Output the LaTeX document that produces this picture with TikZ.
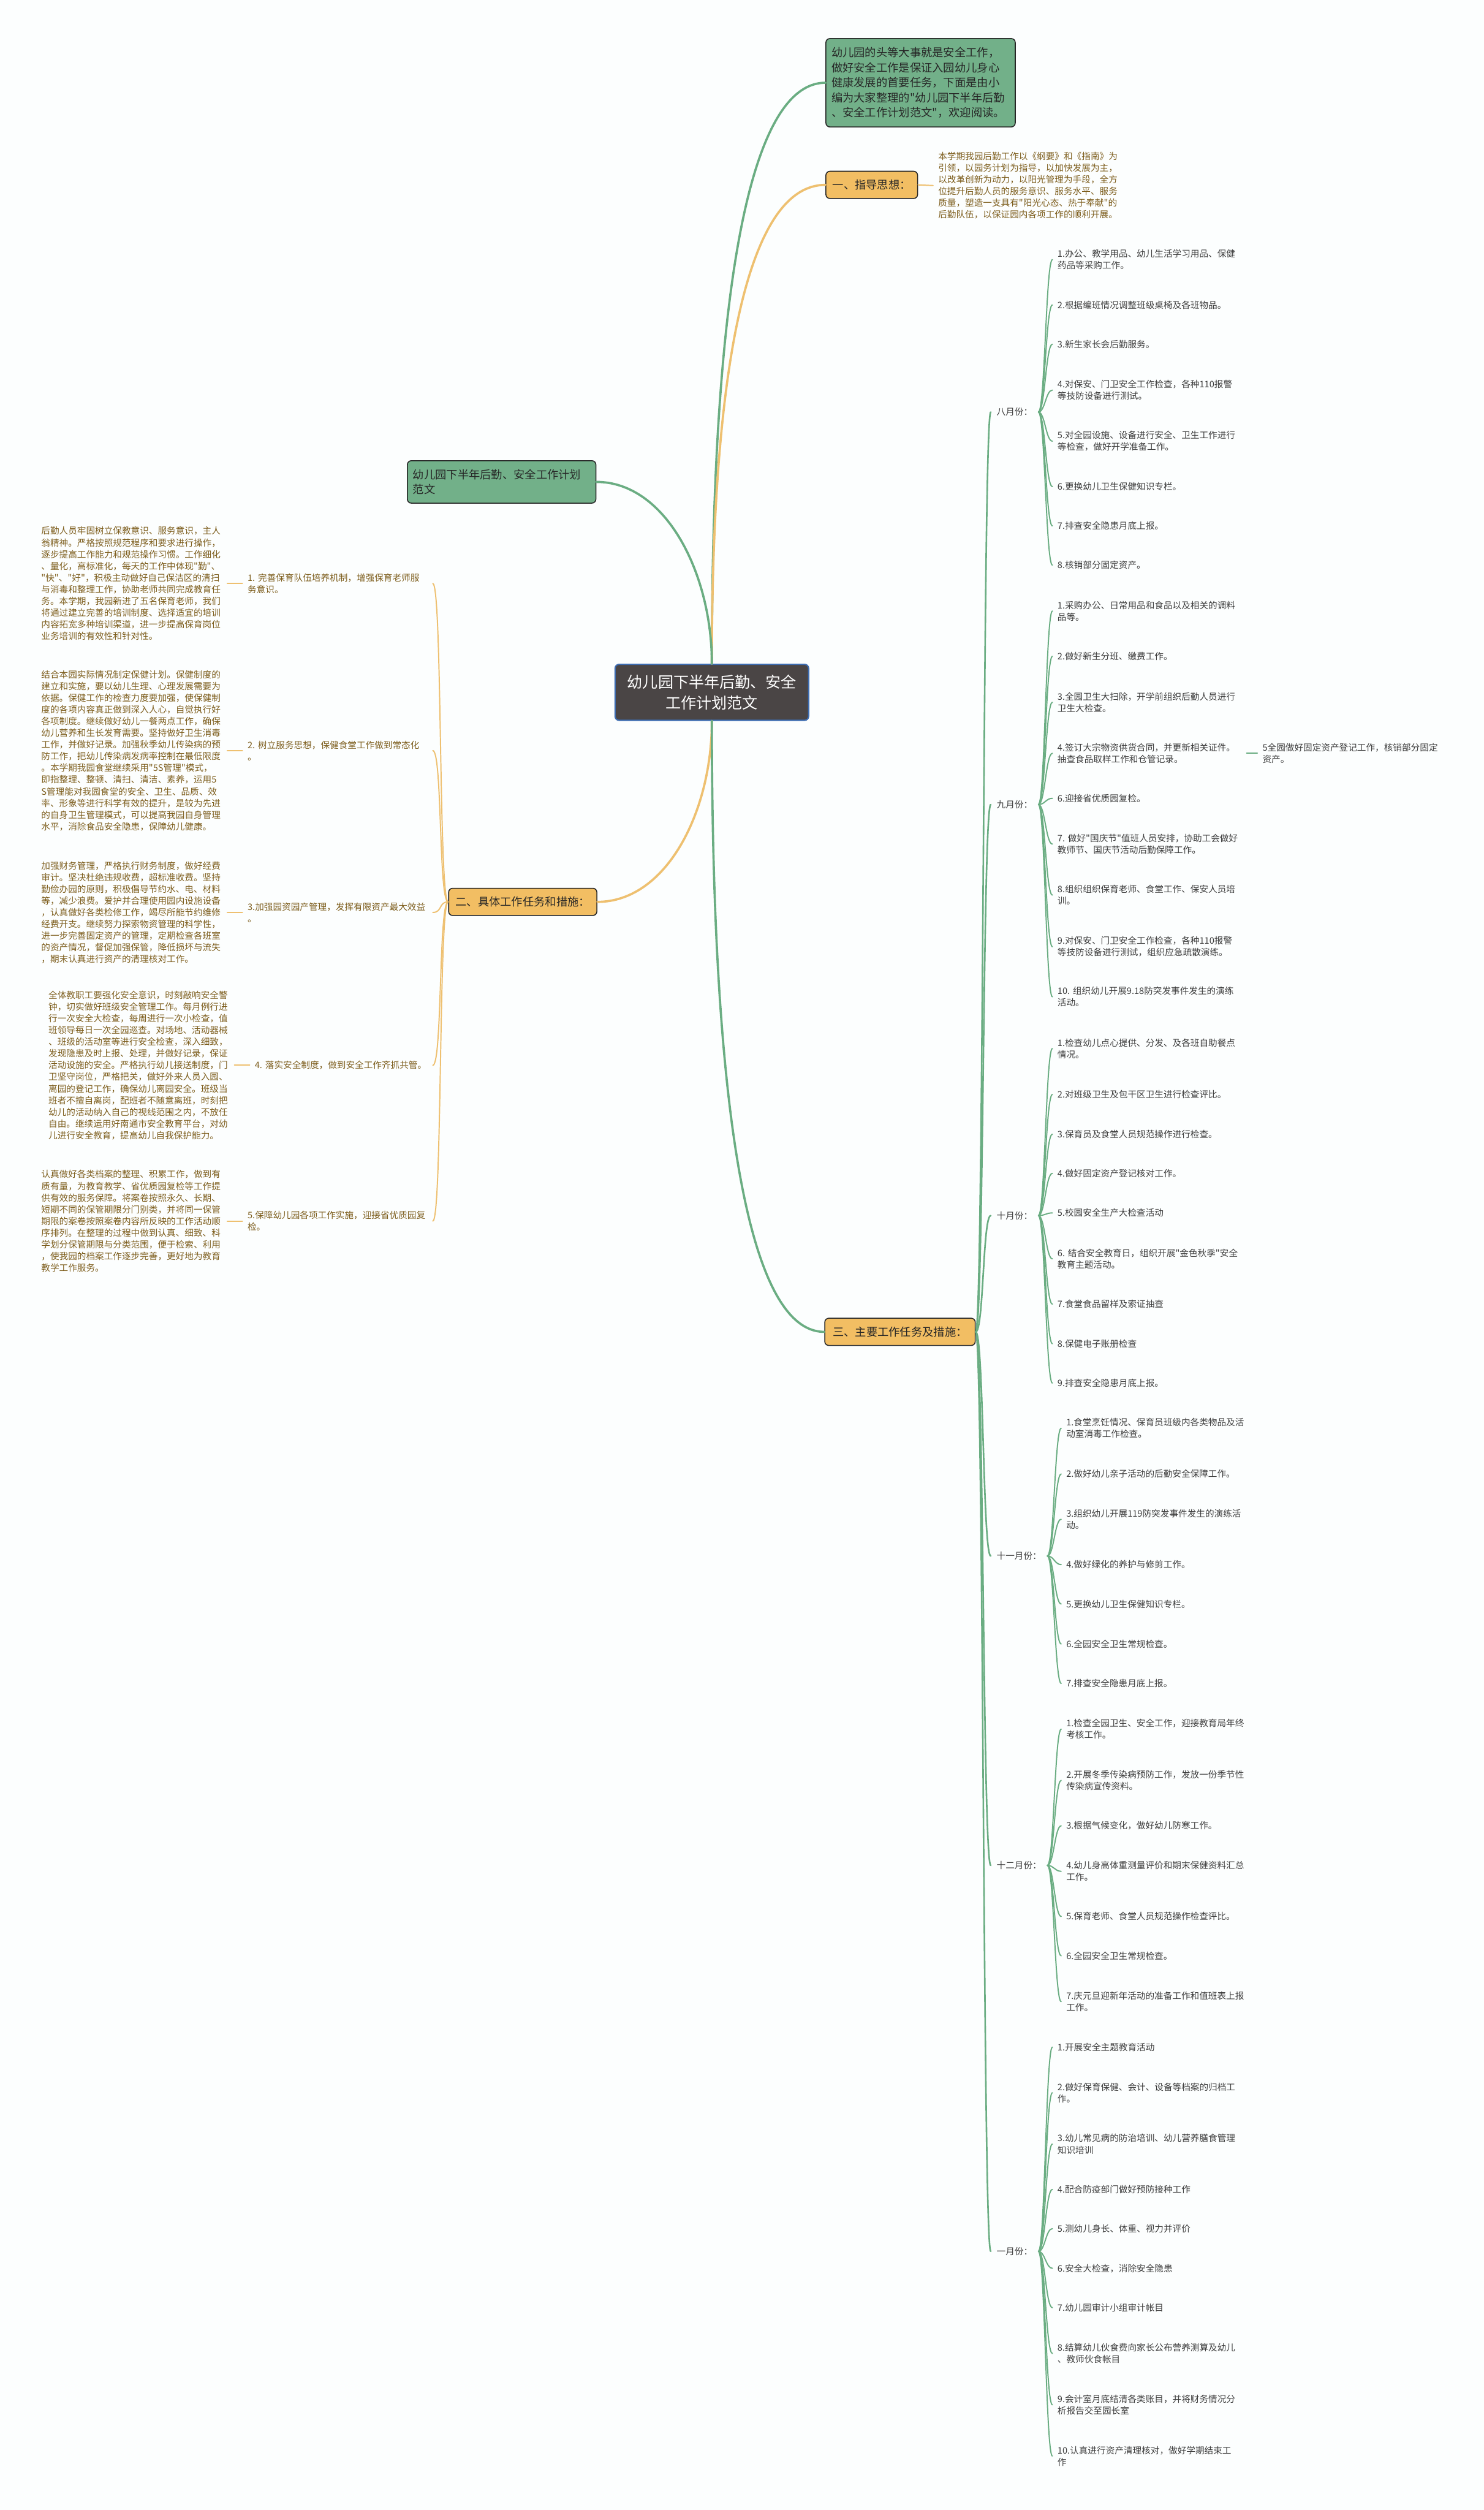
\documentclass[tikz,border=0pt]{standalone}
\usepackage{fontspec}
\newfontfamily\cjk{Noto Sans CJK SC}
\usetikzlibrary{calc, positioning}
\definecolor{cbg}{HTML}{FCFEFE}
\definecolor{cgreen}{HTML}{72B089}
\definecolor{cgline}{HTML}{6AAD82}
\definecolor{corange}{HTML}{F2BE63}
\definecolor{coline}{HTML}{EEC070}
\definecolor{cbrown}{HTML}{7D5D1C}
\definecolor{cink}{HTML}{3C3C3C}
\definecolor{croot}{HTML}{4A4545}
\definecolor{cedge}{HTML}{3D6CB0}
\tikzset{
  every picture/.style={line cap=round},
  topic/.style={draw=black!85, fill=#1, line width=0.6pt, rounded corners=2.5pt, inner xsep=3.5pt, inner ysep=3pt, align=left, text=black!85, font=\cjk\fontsize{7}{9.4}\selectfont},
  item/.style={inner xsep=3pt, inner ysep=0.5pt, align=left, text=#1, font=\cjk\fontsize{5.6}{7.3}\selectfont},
  item/.default=cink,
  month/.style={inner xsep=3.5pt, inner ysep=1pt, text=cink, font=\cjk\fontsize{5.6}{7.3}\selectfont},
  link/.style={to path={.. controls ($(\tikztostart)+(#1,0)$) and ($(\tikztotarget)-(#1,0)$) .. (\tikztotarget)}},
  bough/.style={draw=#1, line width=1.4pt},
  branch/.style={draw=#1, line width=1pt},
  twig/.style={draw=#1, line width=0.75pt},
}
\begin{document}
\begin{tikzpicture}[x=1pt, y=-1pt]
  \path[use as bounding box, fill=cbg] (0,0) rectangle (927,1568);
  % centre and first level
  \node[topic=croot, draw=cedge, line width=0.8pt, text=white, align=center, font=\cjk\fontsize{9.6}{12.7}\selectfont, minimum width=120.9pt, minimum height=35pt, anchor=north west] (root) at (383.9,414.6) {幼儿园下半年后勤、安全\\工作计划范文};
  \node[topic=cgreen, text width=111.3pt, minimum height=55.2pt, anchor=north west] (intro) at (515.7,23.8) {幼儿园的头等大事就是安全工作，\\做好安全工作是保证入园幼儿身心\\健康发展的首要任务，下面是由小\\编为大家整理的"幼儿园下半年后勤\\、安全工作计划范文"，欢迎阅读。};
  \node[topic=cgreen, text width=110.8pt, minimum height=26.5pt, anchor=north west] (plan) at (254.2,287.5) {幼儿园下半年后勤、安全工作计划\\范文};
  \node[topic=corange, minimum width=57.3pt, minimum height=17pt, anchor=west] (sec1) at (515.7,115.5) {一、指导思想：};
  \node[topic=corange, minimum width=92.6pt, minimum height=17pt, anchor=west] (sec2) at (280,563.4) {二、具体工作任务和措施：};
  \node[topic=corange, minimum width=94pt, minimum height=17pt, anchor=west] (sec3) at (515,832) {三、主要工作任务及措施：};
  \draw[bough=cgline] (root.north) .. controls ($(root.north)+(0,-220)$) and ($(intro.west)+(-50,0)$) .. (intro.west);
  \draw[bough=coline] (root.north) .. controls ($(root.north)+(0,-180)$) and ($(sec1.west)+(-50,0)$) .. (sec1.west);
  \draw[bough=cgline] (root.north) .. controls ($(root.north)+(0,-57)$) and ($(plan.east)+(43,0)$) .. (plan.east);
  \draw[bough=coline] (root.south) .. controls ($(root.south)+(0,57)$) and ($(sec2.east)+(43,0)$) .. (sec2.east);
  \draw[bough=cgline] (root.south) .. controls ($(root.south)+(0,230)$) and ($(sec3.west)+(-50,0)$) .. (sec3.west);
  % guiding idea
  \node[item=cbrown, text width=113pt, anchor=west] (aim) at (583,115.9) {本学期我园后勤工作以《纲要》和《指南》为\\引领，以园务计划为指导，以加快发展为主，\\以改革创新为动力，以阳光管理为手段，全方\\位提升后勤人员的服务意识、服务水平、服务\\质量，塑造一支具有"阳光心态、热于奉献"的\\后勤队伍，以保证园内各项工作的顺利开展。};
  \draw[twig=coline] (sec1.east) -- (aim.west);
  % tasks and measures
  \node[item=cbrown, text width=112.5pt, anchor=west] (task1) at (151.5,364.5) {1.~完善保育队伍培养机制，增强保育老师服\\务意识。};
  \node[item=cbrown, text width=113pt, left=9.5pt of task1] (note1) {后勤人员牢固树立保教意识、服务意识，主人\\翁精神。严格按照规范程序和要求进行操作，\\逐步提高工作能力和规范操作习惯。工作细化\\、量化，高标准化，每天的工作中体现"勤"、\\"快"、"好"，积极主动做好自己保洁区的清扫\\与消毒和整理工作，协助老师共同完成教育任\\务。本学期，我园新进了五名保育老师，我们\\将通过建立完善的培训制度、选择适宜的培训\\内容拓宽多种培训渠道，进一步提高保育岗位\\业务培训的有效性和针对性。};
  \node[item=cbrown, text width=112.5pt, anchor=west] (task2) at (151.5,468.9) {2.~树立服务思想，保健食堂工作做到常态化\\。};
  \node[item=cbrown, text width=113pt, left=9.5pt of task2] (note2) {结合本园实际情况制定保健计划。保健制度的\\建立和实施，要以幼儿生理、心理发展需要为\\依据。保健工作的检查力度要加强，使保健制\\度的各项内容真正做到深入人心，自觉执行好\\各项制度。继续做好幼儿一餐两点工作，确保\\幼儿营养和生长发育需要。坚持做好卫生消毒\\工作，并做好记录。加强秋季幼儿传染病的预\\防工作，把幼儿传染病发病率控制在最低限度\\。本学期我园食堂继续采用"5S管理"模式，\\即指整理、整顿、清扫、清洁、素养，运用5\\S管理能对我园食堂的安全、卫生、品质、效\\率、形象等进行科学有效的提升，是较为先进\\的自身卫生管理模式，可以提高我园自身管理\\水平，消除食品安全隐患，保障幼儿健康。};
  \node[item=cbrown, text width=112.5pt, anchor=west] (task3) at (151.5,570) {3.加强园资园产管理，发挥有限资产最大效益\\。};
  \node[item=cbrown, text width=113pt, left=9.5pt of task3] (note3) {加强财务管理，严格执行财务制度，做好经费\\审计。坚决杜绝违规收费，超标准收费。坚持\\勤俭办园的原则，积极倡导节约水、电、材料\\等，减少浪费。爱护并合理使用园内设施设备\\，认真做好各类检修工作，竭尽所能节约维修\\经费开支。继续努力探索物资管理的科学性，\\进一步完善固定资产的管理，定期检查各班室\\的资产情况，督促加强保管，降低损坏与流失\\，期末认真进行资产的清理核对工作。};
  \node[item=cbrown, text width=108pt, anchor=west] (task4) at (156,665.5) {4.~落实安全制度，做到安全工作齐抓共管。};
  \node[item=cbrown, text width=113pt, left=9.5pt of task4] (note4) {全体教职工要强化安全意识，时刻敲响安全警\\钟，切实做好班级安全管理工作。每月例行进\\行一次安全大检查，每周进行一次小检查，值\\班领导每日一次全园巡查。对场地、活动器械\\、班级的活动室等进行安全检查，深入细致，\\发现隐患及时上报、处理，并做好记录，保证\\活动设施的安全。严格执行幼儿接送制度，门\\卫坚守岗位，严格把关，做好外来人员入园、\\离园的登记工作，确保幼儿离园安全。班级当\\班者不擅自离岗，配班者不随意离班，时刻把\\幼儿的活动纳入自己的视线范围之内，不放任\\自由。继续运用好南通市安全教育平台，对幼\\儿进行安全教育，提高幼儿自我保护能力。};
  \node[item=cbrown, text width=112.5pt, anchor=west] (task5) at (151.5,762.8) {5.保障幼儿园各项工作实施，迎接省优质园复\\检。};
  \node[item=cbrown, text width=113pt, left=9.5pt of task5] (note5) {认真做好各类档案的整理、积累工作，做到有\\质有量，为教育教学、省优质园复检等工作提\\供有效的服务保障。将案卷按照永久、长期、\\短期不同的保管期限分门别类，并将同一保管\\期限的案卷按照案卷内容所反映的工作活动顺\\序排列。在整理的过程中做到认真、细致、科\\学划分保管期限与分类范围，便于检索、利用\\，使我园的档案工作逐步完善，更好地为教育\\教学工作服务。};
  \foreach \n in {1,...,5} {
    \draw[twig=coline] (sec2.west) to[link=-6] (task\n.east);
    \draw[twig=coline] (note\n.east) -- (task\n.west);
  }
  % months
  \node[month, anchor=west] (m8) at (619,257.4) {八月份：};
  \node[month, anchor=west] (m9) at (619,502.6) {九月份：};
  \node[month, anchor=west] (m10) at (619,759.4) {十月份：};
  \node[month, anchor=west] (m11) at (619,972) {十一月份：};
  \node[month, anchor=west] (m12) at (619,1165.3) {十二月份：};
  \node[month, anchor=west] (m1) at (619,1406.4) {一月份：};
  \foreach \m in {8,9,10,11,12,1}
    \draw[branch=cgline] (sec3.east) to[link=5] (m\m.west);
  \foreach \n/\y/\txt in {1/162.2/{1.办公、教学用品、幼儿生活学习用品、保健\\药品等采购工作。},
      2/190.5/{2.根据编班情况调整班级桌椅及各班物品。},
      3/215/{3.新生家长会后勤服务。},
      4/243.7/{4.对保安、门卫安全工作检查，各种110报警\\等技防设备进行测试。},
      5/275.6/{5.对全园设施、设备进行安全、卫生工作进行\\等检查，做好开学准备工作。},
      6/304/{6.更换幼儿卫生保健知识专栏。},
      7/328.5/{7.排查安全隐患月底上报。},
      8/353/{8.核销部分固定资产。}} {
    \node[item, text width=115pt, anchor=west] (aug\n) at (657.5,\y) {\txt};
    \draw[twig=cgline] (m8.east) to[link=4] (aug\n.west);
  }
  \foreach \n/\y/\txt in {1/381.7/{1.采购办公、日常用品和食品以及相关的调料\\品等。},
      2/410/{2.做好新生分班、缴费工作。},
      3/438.7/{3.全园卫生大扫除，开学前组织后勤人员进行\\卫生大检查。},
      4/470.6/{4.签订大宗物资供货合同，并更新相关证件。\\抽查食品取样工作和仓管记录。},
      6/498.7/{6.迎接省优质园复检。},
      7/527.3/{7.~做好"国庆节"值班人员安排，协助工会做好\\教师节、国庆节活动后勤保障工作。},
      8/559.2/{8.组织组织保育老师、食堂工作、保安人员培\\训。},
      9/591.4/{9.对保安、门卫安全工作检查，各种110报警\\等技防设备进行测试，组织应急疏散演练。},
      10/622.7/{10.~组织幼儿开展9.18防突发事件发生的演练\\活动。}} {
    \node[item, text width=115pt, anchor=west] (sep\n) at (657.5,\y) {\txt};
    \draw[twig=cgline] (m9.east) to[link=4] (sep\n.west);
  }
  \node[item, right=6.7pt of sep4] (sep4x) {5全园做好固定资产登记工作，核销部分固定\\资产。};
  \draw[twig=cgline] (sep4.east) -- (sep4x.west);
  \foreach \n/\y/\txt in {1/655/{1.检查幼儿点心提供、分发、及各班自助餐点\\情况。},
      2/683.7/{2.对班级卫生及包干区卫生进行检查评比。},
      3/708.5/{3.保育员及食堂人员规范操作进行检查。},
      4/733/{4.做好固定资产登记核对工作。},
      5/757.7/{5.校园安全生产大检查活动},
      6/786.4/{6.~结合安全教育日，组织开展"金色秋季"安全\\教育主题活动。},
      7/814.7/{7.食堂食品留样及索证抽查},
      8/839.4/{8.保健电子账册检查},
      9/864/{9.排查安全隐患月底上报。}} {
    \node[item, text width=115pt, anchor=west] (oct\n) at (657.5,\y) {\txt};
    \draw[twig=cgline] (m10.east) to[link=4] (oct\n.west);
  }
  \foreach \n/\y/\txt in {1/892.2/{1.食堂烹饪情况、保育员班级内各类物品及活\\动室消毒工作检查。},
      2/920.8/{2.做好幼儿亲子活动的后勤安全保障工作。},
      3/949.1/{3.组织幼儿开展119防突发事件发生的演练活\\动。},
      4/977.4/{4.做好绿化的养护与修剪工作。},
      5/1002/{5.更换幼儿卫生保健知识专栏。},
      6/1027/{6.全园安全卫生常规检查。},
      7/1051.6/{7.排查安全隐患月底上报。}} {
    \node[item, text width=115pt, anchor=west] (nov\n) at (663,\y) {\txt};
    \draw[twig=cgline] (m11.east) to[link=4] (nov\n.west);
  }
  \foreach \n/\y/\txt in {1/1080.2/{1.检查全园卫生、安全工作，迎接教育局年终\\考核工作。},
      2/1112.2/{2.开展冬季传染病预防工作，发放一份季节性\\传染病宣传资料。},
      3/1140.6/{3.根据气候变化，做好幼儿防寒工作。},
      4/1169/{4.幼儿身高体重测量评价和期末保健资料汇总\\工作。},
      5/1197.2/{5.保育老师、食堂人员规范操作检查评比。},
      6/1221.8/{6.全园安全卫生常规检查。},
      7/1250.4/{7.庆元旦迎新年活动的准备工作和值班表上报\\工作。}} {
    \node[item, text width=115pt, anchor=west] (dec\n) at (663,\y) {\txt};
    \draw[twig=cgline] (m12.east) to[link=4] (dec\n.west);
  }
  \foreach \n/\y/\txt in {1/1278.8/{1.开展安全主题教育活动},
      2/1307.3/{2.做好保育保健、会计、设备等档案的归档工\\作。},
      3/1339.4/{3.幼儿常见病的防治培训、幼儿营养膳食管理\\知识培训},
      4/1367.7/{4.配合防疫部门做好预防接种工作},
      5/1392.2/{5.测幼儿身长、体重、视力并评价},
      6/1417/{6.安全大检查，消除安全隐患},
      7/1441.6/{7.幼儿园审计小组审计帐目},
      8/1470.2/{8.结算幼儿伙食费向家长公布营养测算及幼儿\\、教师伙食帐目},
      9/1502.3/{9.会计室月底结清各类账目，并将财务情况分\\析报告交至园长室},
      10/1534.3/{10.认真进行资产清理核对，做好学期结束工\\作}} {
    \node[item, text width=115pt, anchor=west] (jan\n) at (657.5,\y) {\txt};
    \draw[twig=cgline] (m1.east) to[link=4] (jan\n.west);
  }
\end{tikzpicture}
\end{document}
